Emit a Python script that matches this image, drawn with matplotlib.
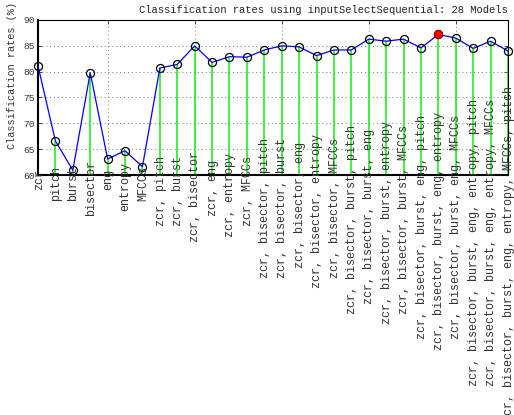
import numpy as np
import matplotlib
matplotlib.use("Agg")
import matplotlib.pyplot as plt

plt.rcParams['font.family'] = ['Liberation Mono', 'DejaVu Sans Mono']

models = ["zcr", "pitch", "burst", "bisector", "eng", "entropy", "MFCCs",
          "zcr, pitch", "zcr, burst", "zcr, bisector", "zcr, eng",
          "zcr, entropy", "zcr, MFCCs",
          "zcr, bisector, pitch", "zcr, bisector, burst", "zcr, bisector, eng",
          "zcr, bisector, entropy", "zcr, bisector, MFCCs",
          "zcr, bisector, burst, pitch", "zcr, bisector, burst, eng",
          "zcr, bisector, burst, entropy", "zcr, bisector, burst, MFCCs",
          "zcr, bisector, burst, eng, pitch", "zcr, bisector, burst, eng, entropy",
          "zcr, bisector, burst, eng, MFCCs",
          "zcr, bisector, burst, eng, entropy, pitch",
          "zcr, bisector, burst, eng, entropy, MFCCs",
          "zcr, bisector, burst, eng, entropy, MFCCs, pitch"]
rates = [81.1, 66.6, 60.9, 79.8, 63.1, 64.7, 61.6,
         80.7, 81.4, 85.0, 81.8, 82.9, 82.8,
         84.2, 85.0, 84.8, 83.1, 84.2,
         84.2, 86.3, 85.9, 86.3,
         84.6, 87.2, 86.5,
         84.5, 85.9, 84.0]
yticks = [60, 65, 70, 75, 80, 85, 90]

x = np.arange(1, len(models) + 1)
y = np.array(rates)
best = int(np.argmax(y))

fig = plt.figure(figsize=(5.14, 4.15), dpi=100)
ax = fig.add_axes([38/514, 1 - 175/415, 470/514, 155/415])

ax.vlines(x, 60, y, colors='#22ee22', lw=1.2, zorder=2)
ax.plot(x, y, '-', color='#0000ff', lw=0.9, zorder=3)
ax.plot(x, y, 'o', mfc='none', mec='black', ms=5.8, mew=0.9, zorder=4, clip_on=False)
ax.plot(x[best], y[best], 'o', mfc='#ff0000', mec='#aa0000', ms=5.8, mew=0.8, zorder=5)

ax.set_xlim(1, len(models))
ax.set_ylim(60, 90)
ax.set_yticks(yticks)
ax.set_xticks([5, 10, 15, 20, 25])
ax.set_xticklabels([])
ax.tick_params(direction='in', length=3, width=0.6, top=True, right=True,
               labelsize=6.8, pad=2, colors='#333333')
ax.grid(True, linestyle=(0, (1, 3)), color='#777777', lw=0.7)
ax.set_axisbelow(True)

for side in ['top', 'right']:
    ax.spines[side].set_linewidth(0.8)
for side in ['left', 'bottom']:
    ax.spines[side].set_linewidth(1.5)

# rotated model names, shifted down by their length
for xi, lab in zip(x, models):
    ax.annotate(lab, xy=(xi, 60), xycoords='data',
                xytext=(0.5, -5.14 * len(lab) * 0.72), textcoords='offset points',
                rotation=90, ha='center', va='bottom', fontsize=8.5,
                color='#333333', annotation_clip=False, zorder=6)

ax.set_title("Classification rates using inputSelectSequential: 28 Models",
             loc='right', fontsize=7.6, pad=5, color='#222222')
ax.set_ylabel("Classification rates (%)", fontsize=7.4, color='#333333')
ax.yaxis.set_label_coords(-0.045, 0.64)

fig.savefig("out.png", dpi=100)
